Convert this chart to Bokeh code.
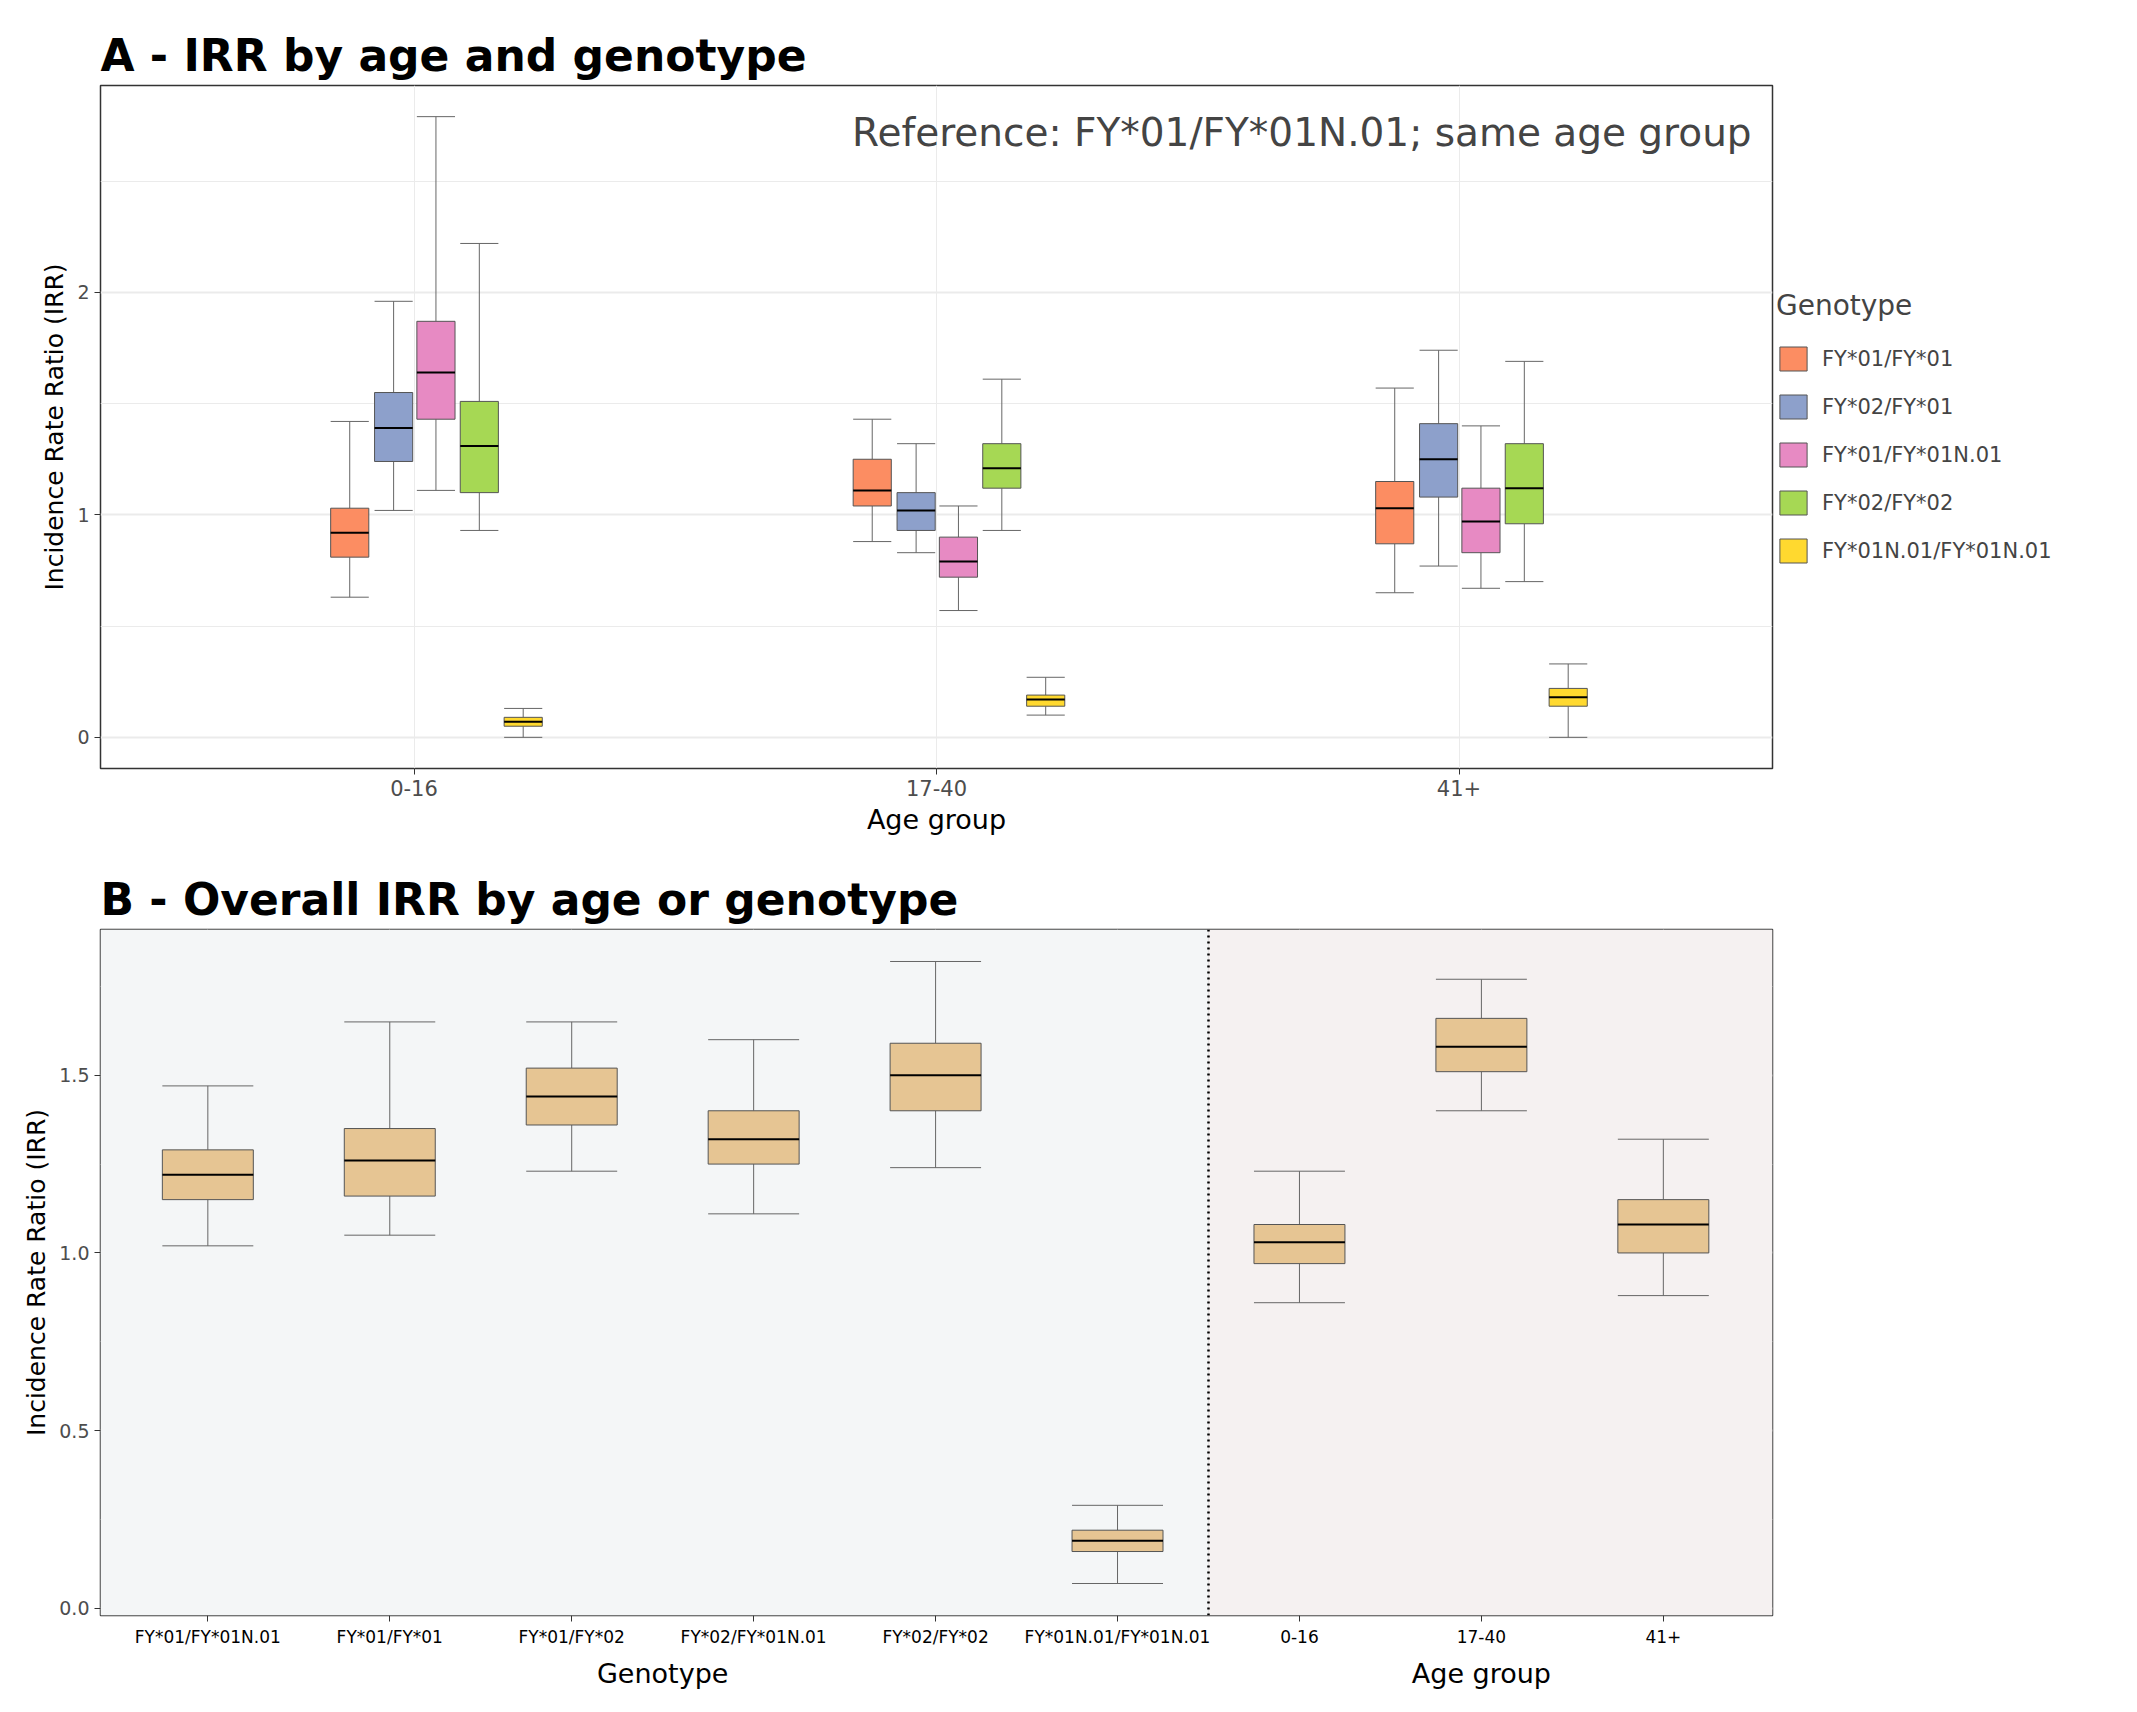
from bokeh.plotting import figure
from bokeh.layouts import column
from bokeh.models import Range1d, FixedTicker, Legend, LegendItem, Label, Span, BoxAnnotation, LinearAxis
from bokeh.embed import file_html
from bokeh.resources import INLINE

# ---- Panel A data ----
age_groups = ["0-16", "17-40", "41+"]
genotypes_a = ["FY*01/FY*01", "FY*02/FY*01", "FY*01/FY*01N.01", "FY*02/FY*02", "FY*01N.01/FY*01N.01"]
colors_a = ["#FC8D62", "#8DA0CB", "#E78AC3", "#A6D854", "#FFD92F"]
# [low, q1, median, q3, high] per genotype, per age group
a_0_16 = [[0.63, 0.81, 0.92, 1.03, 1.42], [1.02, 1.24, 1.39, 1.55, 1.96], [1.11, 1.43, 1.64, 1.87, 2.79],
          [0.93, 1.10, 1.31, 1.51, 2.22], [0.00, 0.05, 0.07, 0.09, 0.13]]
a_17_40 = [[0.88, 1.04, 1.11, 1.25, 1.43], [0.83, 0.93, 1.02, 1.10, 1.32], [0.57, 0.72, 0.79, 0.90, 1.04],
           [0.93, 1.12, 1.21, 1.32, 1.61], [0.10, 0.14, 0.17, 0.19, 0.27]]
a_41 = [[0.65, 0.87, 1.03, 1.15, 1.57], [0.77, 1.08, 1.25, 1.41, 1.74], [0.67, 0.83, 0.97, 1.12, 1.40],
        [0.70, 0.96, 1.12, 1.32, 1.69], [0.00, 0.14, 0.18, 0.22, 0.33]]
stats_a = [a_0_16, a_17_40, a_41]

# ---- Panel B data ----
cats_b = ["FY*01/FY*01N.01", "FY*01/FY*01", "FY*01/FY*02", "FY*02/FY*01N.01", "FY*02/FY*02",
          "FY*01N.01/FY*01N.01", "0-16", "17-40", "41+"]
stats_b = [[1.02, 1.15, 1.22, 1.29, 1.47], [1.05, 1.16, 1.26, 1.35, 1.65], [1.23, 1.36, 1.44, 1.52, 1.65],
           [1.11, 1.25, 1.32, 1.40, 1.60], [1.24, 1.40, 1.50, 1.59, 1.82], [0.07, 0.16, 0.19, 0.22, 0.29],
           [0.86, 0.97, 1.03, 1.08, 1.23], [1.40, 1.51, 1.58, 1.66, 1.77], [0.88, 1.00, 1.08, 1.15, 1.32]]

FONT = "DejaVu Sans"
offsets = [-0.123, -0.039, 0.042, 0.125, 0.209]
BW_A = 0.073


def style(p):
    p.title.text_font = FONT
    p.title.text_font_size = "44px"
    p.title.text_font_style = "bold"
    p.title.text_color = "black"
    p.outline_line_color = "#333333"
    p.outline_line_width = 1.5
    for ax in p.axis:
        ax.major_label_text_font = FONT
        ax.axis_label_text_font = FONT
        ax.axis_label_text_font_style = "normal"
        ax.axis_label_text_color = "black"
        ax.axis_line_color = None
        ax.major_tick_line_color = "#333333"
        ax.minor_tick_line_color = None
        ax.major_tick_out = 6
        ax.major_tick_in = 0
        ax.major_label_text_color = "#4d4d4d"
    p.yaxis.axis_label_text_font_size = "25px"
    p.yaxis.major_label_text_font_size = "19px"
    p.xgrid.grid_line_color = "#EBEBEB"
    p.ygrid.grid_line_color = "#EBEBEB"
    p.ygrid.grid_line_width = 2
    p.ygrid.minor_grid_line_color = "#EBEBEB"
    p.ygrid.minor_grid_line_width = 1


def draw_box(p, x, s, w, color):
    lo, q1, md, q3, hi = s
    p.segment(x0=[x, x], y0=[q3, lo], x1=[x, x], y1=[hi, q1], line_color="#666666", line_width=1)
    p.segment(x0=[x - w / 2, x - w / 2], y0=[hi, lo], x1=[x + w / 2, x + w / 2], y1=[hi, lo],
              line_color="#666666", line_width=1)
    r = p.vbar(x=[x], bottom=[q1], top=[q3], width=w, fill_color=color, line_color="#555555", line_width=1)
    p.segment(x0=[x - w / 2], y0=[md], x1=[x + w / 2], y1=[md], line_color="black", line_width=2)
    return r


# ---- Figure A ----
pa = figure(frame_width=1672, frame_height=683, output_backend="svg", toolbar_location=None,
            x_range=Range1d(0.4, 3.6), y_range=Range1d(-0.14, 2.93),
            title="A - IRR by age and genotype", min_border_left=100, min_border_top=85)
style(pa)
pa.xaxis.ticker = FixedTicker(ticks=[1, 2, 3])
pa.xaxis.major_label_overrides = {i + 1: g for i, g in enumerate(age_groups)}
pa.xaxis.major_label_text_font_size = "21px"
pa.xaxis.axis_label = "Age group"
pa.xaxis.axis_label_text_font_size = "27px"
pa.yaxis.axis_label = "Incidence Rate Ratio (IRR)"
pa.yaxis.ticker = FixedTicker(ticks=[0, 1, 2], minor_ticks=[0.5, 1.5, 2.5])
pa.xgrid.ticker = FixedTicker(ticks=[1, 2, 3])

items = []
for gi, (g, c) in enumerate(zip(genotypes_a, colors_a)):
    rs = []
    for ai in range(3):
        rs.append(draw_box(pa, ai + 1 + offsets[gi], stats_a[ai][gi], BW_A, c))
    items.append(LegendItem(label=g, renderers=[rs[0]]))
leg = Legend(items=items, title="Genotype", location="center_left",
             label_text_font=FONT, label_text_font_size="21px", title_text_font=FONT,
             title_text_font_size="28px", title_text_font_style="normal", title_standoff=22,
             glyph_width=34, glyph_height=30, spacing=18, label_standoff=12,
             border_line_color=None, background_fill_alpha=0, padding=16, margin=4)
pa.add_layout(leg, "right")
pa.add_layout(Label(x=3.56, y=2.72, text="Reference: FY*01/FY*01N.01; same age group",
                    text_align="right", text_baseline="middle", text_font=FONT, text_font_size="39px"))

# ---- Figure B ----
pb = figure(frame_width=1672, frame_height=686, output_backend="svg", toolbar_location=None,
            x_range=Range1d(0.41, 9.6), y_range=Range1d(-0.02, 1.91),
            title="B - Overall IRR by age or genotype", min_border_left=100, min_border_top=92)
style(pb)
pb.background_fill_color = "white"
pb.add_layout(BoxAnnotation(right=6.5, fill_color="#F4F6F7", fill_alpha=1, level="underlay"))
pb.add_layout(BoxAnnotation(left=6.5, fill_color="#F5F1F1", fill_alpha=1, level="underlay"))
pb.xaxis.ticker = FixedTicker(ticks=list(range(1, 10)))
pb.xaxis.major_label_overrides = {i + 1: c for i, c in enumerate(cats_b)}
pb.xaxis.major_label_text_font_size = "17px"
pb.xaxis.major_label_text_color = "black"
pb.xgrid.ticker = FixedTicker(ticks=list(range(1, 10)))
pb.yaxis.axis_label = "Incidence Rate Ratio (IRR)"
pb.yaxis.ticker = FixedTicker(ticks=[0, 0.5, 1.0, 1.5], minor_ticks=[0.25, 0.75, 1.25, 1.75])
pb.yaxis.major_label_overrides = {0: "0.0", 0.5: "0.5", 1: "1.0", 1.5: "1.5"}
pb.add_layout(Span(location=6.5, dimension="height", line_dash="dotted", line_color="black", line_width=2.5))
for i, s in enumerate(stats_b):
    draw_box(pb, i + 1, s, 0.5, "#E6C593")
ax2 = LinearAxis(ticker=FixedTicker(ticks=[3.5, 8]), major_label_overrides={3.5: "Genotype", 8: "Age group"})
ax2.axis_line_color = None
ax2.major_tick_line_color = None
ax2.major_label_text_font = FONT
ax2.major_label_text_font_size = "27px"
ax2.major_label_text_color = "black"
ax2.major_label_standoff = 2
pb.add_layout(ax2, "below")

layout = column(pa, pb, spacing=0)
open("out.html", "w").write(file_html(layout, INLINE))
